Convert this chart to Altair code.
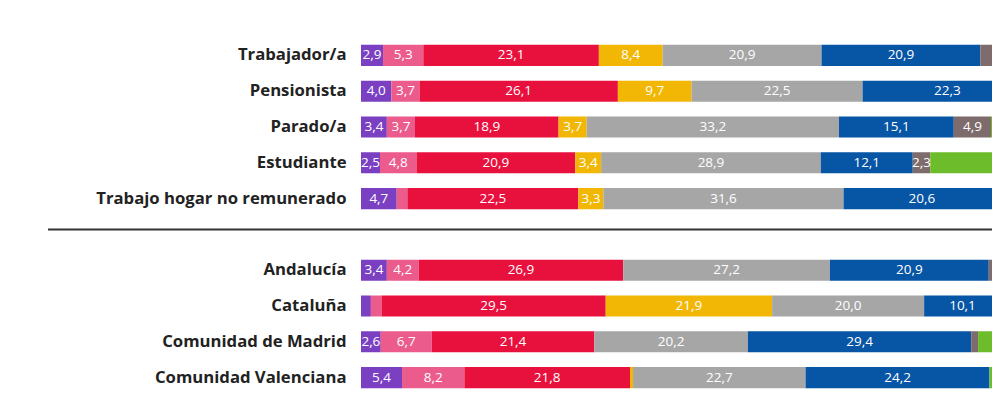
import altair as alt
import pandas as pd

rows = ["Trabajador/a", "Pensionista", "Parado/a", "Estudiante",
        "Trabajo hogar no remunerado", " ",
        "Andalucía", "Cataluña", "Comunidad de Madrid", "Comunidad Valenciana"]

series = ["S1", "S2", "S3", "S4", "S5", "S6", "S7", "S8"]
colors = ["#7b40c2", "#eb5b8b", "#e8113e", "#f2b705", "#a6a6a6", "#0755a5", "#7e6b6b", "#6cbc2c"]

# values per row (series S1..S8); the right end of the chart is cut off in the reference
trabajador  = [2.9, 5.3, 23.1, 8.4, 20.9, 20.9, 1.6, 10.0]
pensionista = [4.0, 3.7, 26.1, 9.7, 22.5, 22.3, 1.5, 8.0]
parado      = [3.4, 3.7, 18.9, 3.7, 33.2, 15.1, 4.9, 10.0]
estudiante  = [2.5, 4.8, 20.9, 3.4, 28.9, 12.1, 2.3, 22.0]
hogar       = [4.7, 1.4, 22.5, 3.3, 31.6, 20.6, 1.5, 8.0]
andalucia   = [3.4, 4.2, 26.9, 0.0, 27.2, 20.9, 1.5, 8.0]
cataluna    = [1.3, 1.4, 29.5, 21.9, 20.0, 10.1, 1.0, 8.0]
madrid      = [2.6, 6.7, 21.4, 0.0, 20.2, 29.4, 0.9, 12.0]
valenciana  = [5.4, 8.2, 21.8, 0.4, 22.7, 24.2, 0.0, 12.0]

table = {
    "Trabajador/a": trabajador,
    "Pensionista": pensionista,
    "Parado/a": parado,
    "Estudiante": estudiante,
    "Trabajo hogar no remunerado": hogar,
    "Andalucía": andalucia,
    "Cataluña": cataluna,
    "Comunidad de Madrid": madrid,
    "Comunidad Valenciana": valenciana,
}

recs = []
for r, vals in table.items():
    for i, (s, v) in enumerate(zip(series, vals)):
        recs.append({"row": r, "serie": s, "order": i, "value": v,
                     "label": (f"{v:.1f}".replace(".", ",") if v >= 2 else "")})
df = pd.DataFrame(recs)

X_MAX = 83.03

base = alt.Chart(df).transform_stack(
    stack="value", groupby=["row"], as_=["x0", "x1"],
    sort=[alt.SortField("order", order="ascending")]
)

yenc = alt.Y("row:N", sort=rows,
             scale=alt.Scale(domain=rows, paddingInner=0.41, paddingOuter=0.205),
             axis=alt.Axis(title=None, ticks=False, domain=False, labelPadding=15,
                           labelFont="Open Sans", labelFontSize=16.7, labelFontWeight="bold",
                           labelColor="#222222", labelLimit=400))

bars = base.mark_bar(clip=True).encode(
    x=alt.X("x0:Q", scale=alt.Scale(domain=[0, X_MAX], nice=False, zero=True),
            axis=None),
    x2="x1:Q",
    y=yenc,
    color=alt.Color("serie:N", scale=alt.Scale(domain=series, range=colors), legend=None),
)

labels = base.transform_calculate(mid="(datum.x0 + datum.x1) / 2").mark_text(
    clip=True, color="white", font="Open Sans", fontSize=13.5, baseline="middle", align="center"
).encode(
    x=alt.X("mid:Q", scale=alt.Scale(domain=[0, X_MAX], nice=False, zero=True), axis=None),
    y=alt.Y("row:N", sort=rows, scale=alt.Scale(domain=rows)),
    text="label:N",
)

sep = alt.Chart(pd.DataFrame({"a": [0]})).mark_rule(color="#333333", strokeWidth=2).encode(
    x=alt.value(-313), x2=alt.value(631), y=alt.value(192)
)

chart = alt.layer(bars, labels, sep).properties(
    width=631, height=358,
    padding={"left": 353, "top": 29.5, "right": 0, "bottom": 0},
    autosize=alt.AutoSizeParams(type="none"),
).configure_view(stroke=None)

chart.save("out.html", embed_options={"renderer": "svg", "actions": False})
